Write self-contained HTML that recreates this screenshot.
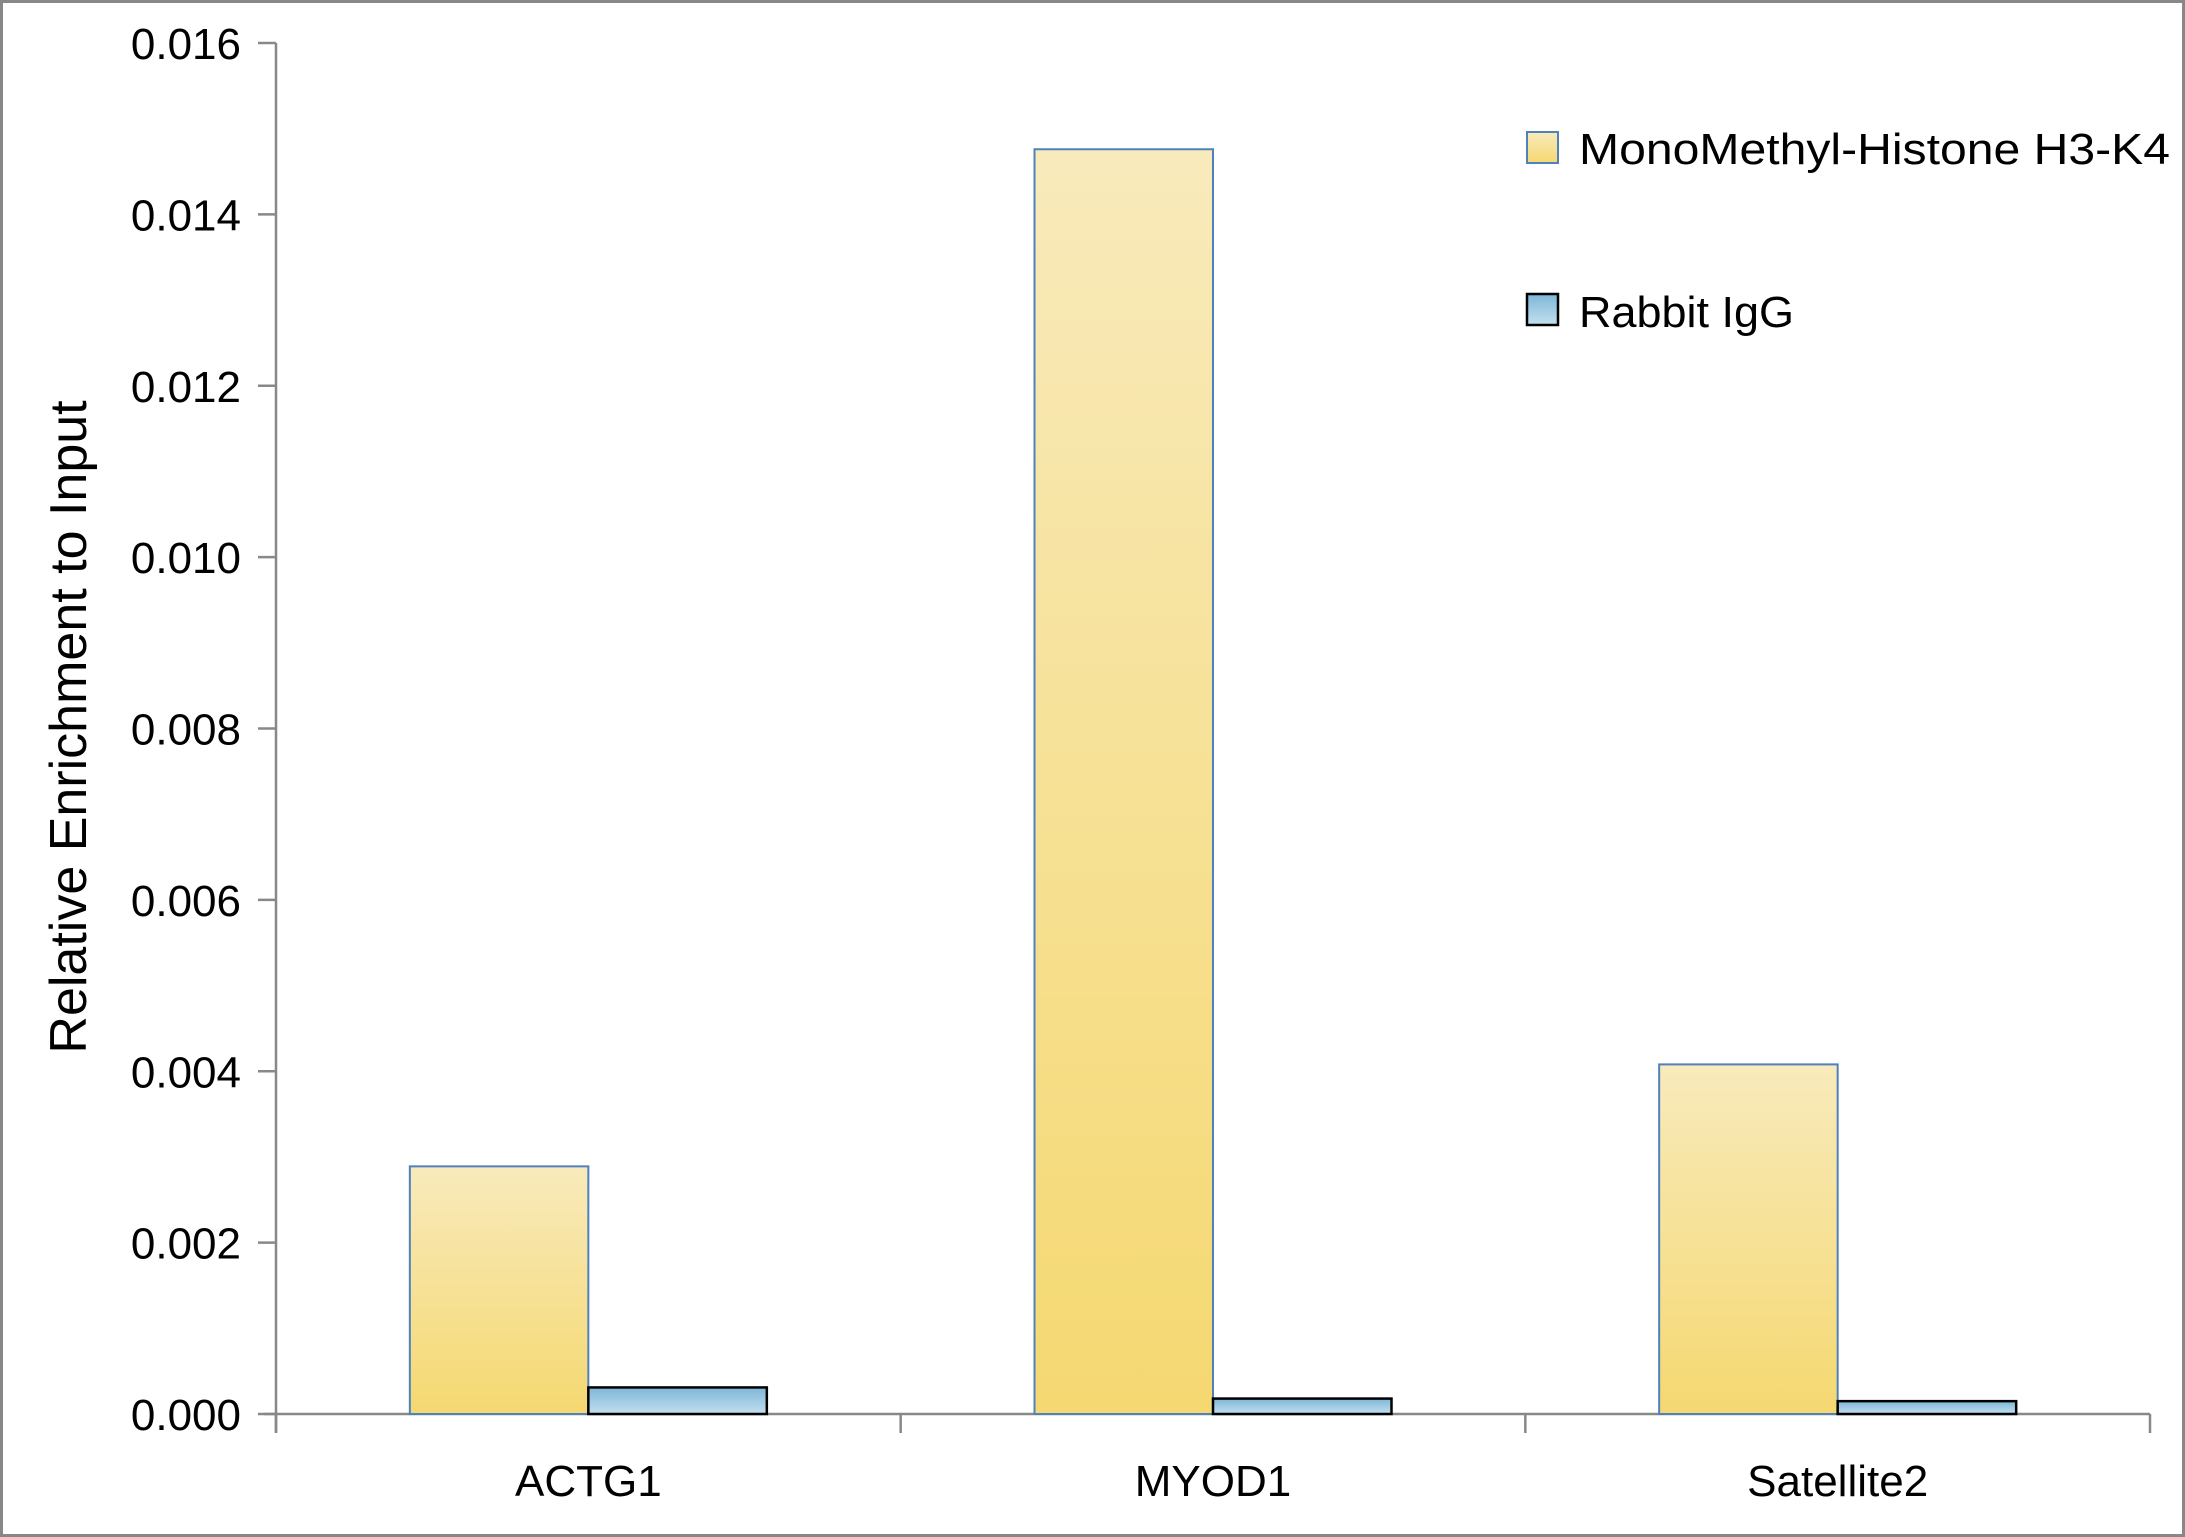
<!DOCTYPE html>
<html><head><meta charset="utf-8"><style>
html,body{margin:0;padding:0;background:#fff;}
svg{display:block;font-family:"Liberation Sans",sans-serif;}
</style></head><body>
<svg id="chart" width="2185" height="1537" viewBox="0 0 2185 1537" xmlns="http://www.w3.org/2000/svg">
<defs>
<linearGradient id="gy" x1="0" y1="0" x2="0" y2="1"><stop offset="0" stop-color="#f8eabb"/><stop offset="1" stop-color="#f5d871"/></linearGradient>
<linearGradient id="gb" x1="0" y1="0" x2="0" y2="1"><stop offset="0" stop-color="#7db6d8"/><stop offset="1" stop-color="#c3e0ef"/></linearGradient>
</defs>
<rect x="1.5" y="1.5" width="2182" height="1534" fill="#fff" stroke="#888" stroke-width="3"/>
<g id="axes"></g>
<g id="bars"></g>
<text transform="translate(86,727) rotate(-90)" text-anchor="middle" font-size="52" fill="#000">Relative Enrichment to Input</text>
<g>
<rect x="1527" y="132" width="31" height="31" fill="url(#gy)" stroke="#4f81bd" stroke-width="2"/>
<text x="1579" y="164" font-size="44" textLength="591" lengthAdjust="spacingAndGlyphs">MonoMethyl-Histone H3-K4</text>
<rect x="1527" y="294" width="31" height="31" fill="url(#gb)" stroke="#000" stroke-width="2.5"/>
<text x="1579" y="327" font-size="44" textLength="215" lengthAdjust="spacingAndGlyphs">Rabbit IgG</text>
</g>
</svg>
<script>
const categories = ["ACTG1", "MYOD1", "Satellite2"];
const monoValues = [0.00289, 0.01476, 0.00408];
const iggValues = [0.00031, 0.00018, 0.00015];
const yTicks = [0, 0.002, 0.004, 0.006, 0.008, 0.010, 0.012, 0.014, 0.016];
const yTickLabels = ["0.000","0.002","0.004","0.006","0.008","0.010","0.012","0.014","0.016"];

const NS = "http://www.w3.org/2000/svg";
const x0 = 276, x1 = 2150, yBase = 1414, yTop = 43, yMax = 0.016;
const groupW = (x1 - x0) / categories.length;
function yScale(v){ return yBase - (v / yMax) * (yBase - yTop); }
function groupStart(i){ return x0 + i * groupW; }
function mk(tag, attrs){ const e = document.createElementNS(NS, tag); for (const k in attrs) e.setAttribute(k, attrs[k]); return e; }

const axes = document.getElementById('axes');
const bars = document.getElementById('bars');

const yAxis = mk('line', {x1:x0, y1:yTop, x2:x0, y2:1433, stroke:'#888', 'stroke-width':2.5});


axes.appendChild(yAxis);
const xAxis = mk('line', {x1:x0-12, y1:yBase, x2:x1, y2:yBase, stroke:'#888', 'stroke-width':2.5});


axes.appendChild(xAxis);

yTicks.forEach((t, i) => {
  const y = yScale(t);
  const tk = mk('line', {x1:x0-18, y1:y, x2:x0, y2:y, stroke:'#888', 'stroke-width':2.5});
  
  
  axes.appendChild(tk);
  const lb = mk('text', {x:241, y:y+16, 'text-anchor':'end', 'font-size':44, fill:'#000'});
  
  
  lb.textContent = yTickLabels[i];
  axes.appendChild(lb);
});

for (let i = 0; i <= categories.length; i++) {
  const x = groupStart(i);
  const tk = mk('line', {x1:x, y1:yBase, x2:x, y2:1433, stroke:'#888', 'stroke-width':2.5});
  
  
  axes.appendChild(tk);
}

const barW = 178.5;
categories.forEach((c, i) => {
  const gs = groupStart(i);
  const bx = gs + (groupW - 2 * barW) / 2;
  const ym = yScale(monoValues[i]);
  const b1 = mk('rect', {x:bx, y:ym, width:barW, height:yBase-ym, fill:'url(#gy)', stroke:'#4f81bd', 'stroke-width':2});
  
  
  bars.appendChild(b1);
  const yi = yScale(iggValues[i]);
  const b2 = mk('rect', {x:bx+barW, y:yi, width:barW, height:yBase-yi, fill:'url(#gb)', stroke:'#000', 'stroke-width':2.5});
  
  
  bars.appendChild(b2);
  const lb = mk('text', {x:gs+groupW/2, y:1496, 'text-anchor':'middle', 'font-size':44, fill:'#000'});
  
  
  lb.textContent = c;
  axes.appendChild(lb);
});
</script>
</body></html>
